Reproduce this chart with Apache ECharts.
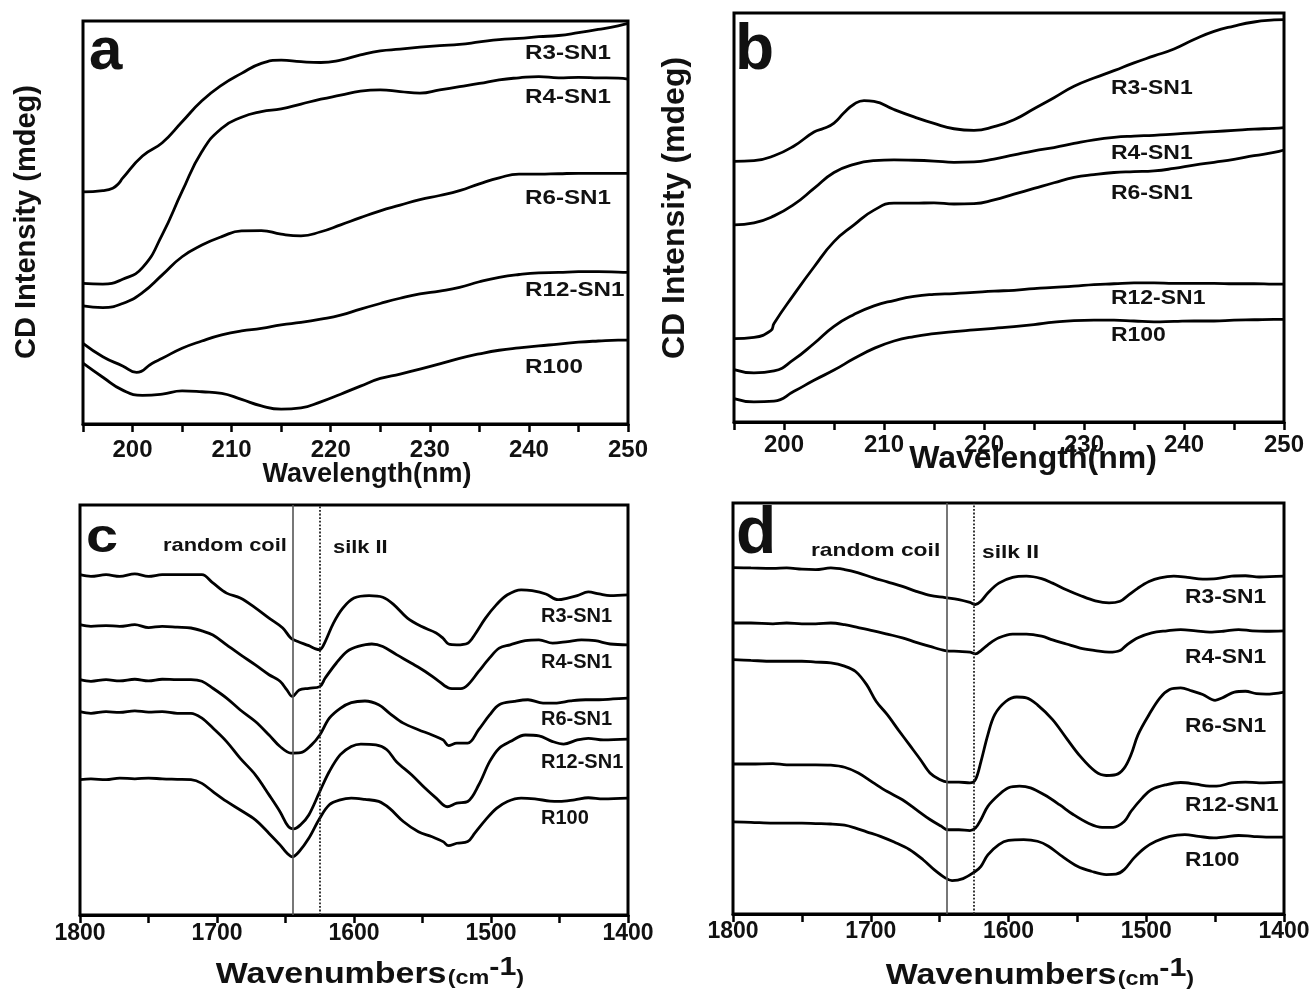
<!DOCTYPE html>
<html>
<head>
<meta charset="utf-8">
<script src="https://cdn.jsdelivr.net/npm/echarts@6/dist/echarts.min.js"></script>
<style>
html,body{margin:0;padding:0;background:#fff;}
#chart{width:1314px;height:994px;}
</style>
</head>
<body>
<div id="chart"></div>
<script>
// ---------------- DATA ----------------
const seriesNames = ['R3-SN1', 'R4-SN1', 'R6-SN1', 'R12-SN1', 'R100'];
const cdTickLabels = [200, 210, 220, 230, 240, 250];
const irTickLabels = [1800, 1700, 1600, 1500, 1400];
const bandLines = [1645, 1625]; // random coil, silk II

// Panel a: CD, wavelength (nm) vs intensity (arb.)
const aR3 = [[195,57.6],[197,57.9],[198,58.5],[198.6,59.7],[199,61.0],[201,66.5],[203,69.8],[205,75.0],[207,80.2],[209,84.1],[211,87.0],[213,89.5],[215,90.3],[217,89.9],[219,89.7],[221,90.3],[223,91.6],[225,92.6],[227,93.0],[229,93.5],[231,93.9],[233,94.2],[235,94.8],[237,95.4],[239,95.7],[241,96.1],[243,96.4],[245,97.1],[247,97.9],[249,98.8],[250,99.4]];
const aR4 = [[195,34.9],[197,34.7],[199,35.9],[201,38.8],[203,47.0],[205,57.7],[207,67.6],[209,73.4],[211,76.1],[213,77.5],[215,78.2],[217,79.4],[219,80.6],[221,81.6],[223,82.6],[225,82.9],[227,82.5],[229,82.1],[231,82.9],[233,83.7],[235,84.5],[237,85.4],[239,85.9],[241,86.2],[243,85.9],[245,86.0],[247,85.9],[249,85.8],[250,85.6]];
const aR6 = [[195,29.3],[197,28.9],[199,29.9],[201,32.6],[203,37.0],[205,41.5],[207,44.4],[209,46.5],[211,47.9],[213,48.0],[215,47.1],[217,46.7],[219,47.7],[221,49.4],[223,51.2],[225,52.9],[227,54.3],[229,55.7],[231,56.7],[233,57.9],[235,59.6],[237,61.1],[239,62.0],[241,62.0],[243,62.1],[245,62.2],[247,62.2],[249,62.2],[250,62.2]];
const aR12 = [[195,20.0],[197,16.7],[199,14.4],[200.4,12.8],[202,15.1],[203,16.3],[205,18.8],[207,20.6],[209,22.1],[211,23.1],[213,23.7],[215,24.6],[217,25.2],[219,26.0],[221,27.0],[223,28.5],[225,29.9],[227,31.2],[229,32.3],[231,33.0],[233,33.9],[235,35.3],[237,36.4],[239,37.1],[241,37.5],[243,37.6],[245,37.8],[247,37.8],[249,37.7],[250,37.6]];
const aR100 = [[195,15.1],[197,11.6],[199,8.4],[201,7.1],[203,7.4],[205,8.2],[207,8.0],[209,7.6],[211,6.1],[213,4.5],[215,3.7],[217,4.0],[219,5.5],[221,7.4],[223,9.4],[225,11.3],[227,12.4],[229,13.6],[231,14.9],[233,16.3],[235,17.4],[237,18.3],[239,18.9],[241,19.4],[243,19.8],[245,20.3],[247,20.6],[249,20.8],[250,20.8]];

// Panel b: CD
const bR3 = [[195,63.7],[197,63.9],[199,65.1],[201,67.5],[203,70.9],[204,71.8],[205,73.1],[206,75.6],[207,77.7],[208,78.6],[209,78.4],[211,76.4],[213,74.6],[215,73.0],[217,71.7],[219,71.3],[221,72.2],[223,73.9],[225,76.6],[227,79.3],[229,82.1],[231,84.1],[233,85.9],[235,87.8],[237,89.5],[239,91.2],[241,93.5],[243,95.5],[245,96.8],[247,97.8],[249,98.3],[250,98.4]];
const bR4 = [[195,48.2],[197,48.7],[199,50.4],[201,53.2],[203,57.1],[205,61.0],[207,63.0],[209,63.9],[211,64.1],[213,64.0],[215,63.8],[217,63.5],[219,63.6],[221,64.3],[223,65.3],[225,66.3],[227,67.1],[229,68.1],[231,69.0],[233,69.6],[235,69.9],[237,70.1],[239,70.4],[241,70.7],[243,71.0],[245,71.3],[247,71.6],[249,71.8],[250,72.0]];
const bR6 = [[195,20.4],[197,20.7],[198.7,22.4],[199,24.1],[201,31.2],[203,37.9],[205,44.1],[207,48.2],[209,51.8],[211,53.5],[213,53.5],[215,53.6],[217,53.3],[219,53.4],[221,54.3],[223,55.7],[225,57.1],[227,58.5],[229,59.8],[231,60.5],[233,61.0],[235,61.2],[237,61.4],[239,62.0],[241,62.8],[243,63.5],[245,64.2],[247,65.1],[249,65.9],[250,66.5]];
const bR12 = [[195,12.8],[197,12.0],[199,12.5],[201,15.3],[203,19.2],[205,23.4],[207,26.3],[209,28.4],[211,29.7],[213,30.7],[215,31.2],[217,31.4],[219,31.7],[221,32.0],[223,32.2],[225,32.6],[227,32.9],[229,33.2],[231,33.6],[233,33.8],[235,34.0],[237,34.0],[239,33.9],[241,33.9],[243,33.9],[245,33.8],[247,33.8],[249,33.7],[250,33.7]];
const bR100 = [[195,5.7],[197,4.9],[199,5.1],[201,7.5],[203,10.2],[205,12.7],[207,15.5],[209,18.0],[211,19.8],[213,20.9],[215,21.6],[217,22.1],[219,22.5],[221,22.9],[223,23.3],[225,23.8],[227,24.4],[229,24.8],[231,24.9],[233,24.9],[235,24.7],[237,24.5],[239,24.6],[241,24.7],[243,24.7],[245,24.9],[247,25.0],[249,25.1],[250,25.1]];

// Panel c: FTIR, wavenumber (cm-1) vs absorbance (arb.)
const cR3 = [[1800,83.0],[1792,82.6],[1781,83.0],[1771,82.6],[1760,83.2],[1750,82.6],[1740,83.0],[1729,83.0],[1719,83.0],[1711,83.0],[1703,81.0],[1693,78.5],[1683,77.3],[1672,74.9],[1662,72.4],[1652,70.0],[1646,67.5],[1641,66.7],[1633,65.7],[1628,64.9],[1625,64.7],[1621,66.7],[1615,71.2],[1608,74.9],[1600,77.3],[1589,77.9],[1579,77.5],[1571,75.7],[1561,72.4],[1551,70.4],[1540,68.8],[1535,67.5],[1531,66.1],[1525,65.9],[1517,66.3],[1512,68.3],[1504,72.4],[1496,75.7],[1488,78.1],[1478,79.3],[1470,79.1],[1460,78.3],[1451,76.9],[1444,77.3],[1437,77.9],[1429,78.8],[1421,78.3],[1413,77.9],[1400,78.1]];
const cR4 = [[1800,70.8],[1792,70.4],[1781,70.6],[1771,70.4],[1760,70.8],[1750,70.1],[1740,70.4],[1729,70.2],[1719,70.0],[1711,69.3],[1703,68.3],[1693,65.9],[1683,63.5],[1672,61.0],[1662,58.6],[1654,57.0],[1649,54.9],[1645,53.3],[1640,54.9],[1633,55.3],[1625,55.7],[1621,57.8],[1613,61.4],[1605,64.3],[1597,65.5],[1587,66.1],[1579,65.5],[1569,63.5],[1558,61.4],[1548,59.4],[1538,57.0],[1530,55.3],[1522,55.2],[1517,56.1],[1509,59.4],[1501,62.7],[1494,65.1],[1486,65.9],[1475,66.9],[1465,67.1],[1455,66.3],[1444,66.7],[1434,67.1],[1424,66.9],[1413,66.1],[1400,65.9]];
const cR6 = [[1800,57.4],[1792,57.0],[1781,57.4],[1771,57.1],[1760,57.5],[1750,57.1],[1740,57.5],[1729,57.4],[1719,57.4],[1711,57.0],[1703,55.3],[1693,52.9],[1683,50.0],[1672,47.2],[1662,43.9],[1654,41.1],[1646,39.5],[1639,39.6],[1631,41.5],[1625,43.9],[1618,48.0],[1610,50.4],[1602,51.8],[1592,52.2],[1582,51.3],[1574,49.2],[1564,46.8],[1553,45.2],[1543,43.9],[1535,42.7],[1531,41.3],[1525,41.9],[1517,41.9],[1509,45.2],[1501,48.8],[1494,51.3],[1483,52.1],[1473,52.5],[1462,51.7],[1452,51.7],[1442,52.2],[1431,52.5],[1421,52.5],[1411,52.7],[1400,52.9]];
const cR12 = [[1800,49.6],[1792,49.2],[1781,49.6],[1771,49.4],[1760,49.8],[1750,49.5],[1740,49.6],[1729,49.2],[1719,49.2],[1711,48.0],[1703,45.6],[1693,42.3],[1683,38.2],[1672,34.2],[1662,29.3],[1654,25.2],[1648,21.6],[1644,21.0],[1639,22.0],[1633,24.4],[1625,30.1],[1618,35.0],[1610,39.1],[1602,41.1],[1595,41.7],[1584,41.5],[1576,40.3],[1569,37.4],[1558,34.2],[1548,30.9],[1540,28.5],[1532,26.4],[1525,27.3],[1517,27.7],[1509,31.7],[1501,37.4],[1494,40.7],[1486,42.3],[1475,43.9],[1465,43.7],[1455,42.3],[1447,41.7],[1437,42.7],[1429,43.1],[1418,42.7],[1400,42.9]];
const cR100 = [[1800,33.0],[1792,33.2],[1781,33.0],[1771,33.4],[1760,33.2],[1750,33.4],[1740,33.2],[1729,33.1],[1719,33.0],[1711,32.1],[1703,30.1],[1693,27.7],[1683,25.6],[1672,23.2],[1662,19.9],[1654,17.1],[1649,15.1],[1645,14.2],[1640,15.5],[1633,18.7],[1625,23.6],[1618,26.9],[1610,28.1],[1602,28.5],[1592,28.2],[1582,27.7],[1574,26.0],[1564,22.8],[1553,20.3],[1543,19.1],[1535,17.9],[1531,16.9],[1525,17.5],[1517,17.9],[1512,19.9],[1504,23.2],[1496,26.0],[1488,27.7],[1478,28.5],[1468,28.3],[1457,27.8],[1450,27.7],[1439,28.1],[1429,28.6],[1418,28.3],[1400,28.5]];

// Panel d: FTIR
const dR3 = [[1800,84.3],[1787,84.2],[1771,84.1],[1761,84.2],[1750,83.9],[1740,83.8],[1729,84.2],[1719,83.8],[1709,83.0],[1698,81.8],[1688,80.8],[1677,79.7],[1667,78.5],[1657,77.5],[1646,77.0],[1636,76.5],[1628,75.8],[1624,75.3],[1620,76.1],[1615,78.1],[1607,80.5],[1597,81.9],[1587,82.2],[1576,81.6],[1568,80.5],[1558,78.9],[1548,77.5],[1537,76.2],[1527,75.7],[1519,76.1],[1514,77.3],[1506,79.3],[1498,80.9],[1490,81.8],[1480,82.2],[1470,81.9],[1459,81.5],[1449,81.6],[1438,82.2],[1428,82.3],[1418,82.0],[1400,82.2]];
const dR4 = [[1800,70.8],[1787,70.8],[1771,70.6],[1761,70.8],[1750,70.6],[1740,70.6],[1729,70.8],[1719,70.4],[1709,69.7],[1698,68.9],[1688,68.1],[1677,67.2],[1667,66.1],[1657,65.1],[1646,64.1],[1636,63.9],[1628,63.7],[1624,63.3],[1620,64.1],[1615,65.5],[1607,67.2],[1597,68.1],[1587,68.1],[1576,67.6],[1568,66.7],[1558,65.7],[1548,64.7],[1537,64.1],[1527,63.7],[1519,64.1],[1514,65.5],[1506,67.2],[1496,68.4],[1485,68.9],[1475,69.2],[1464,68.9],[1454,68.6],[1444,68.8],[1433,69.2],[1423,68.9],[1413,68.8],[1400,68.9]];
const dR6 = [[1800,61.9],[1787,61.7],[1771,61.5],[1761,61.5],[1750,61.5],[1740,61.3],[1729,61.1],[1719,60.3],[1711,59.0],[1703,55.8],[1696,51.7],[1688,48.5],[1680,44.8],[1672,41.2],[1664,37.6],[1657,34.3],[1650,32.7],[1644,32.1],[1636,32.1],[1628,31.9],[1624,32.7],[1620,37.1],[1615,43.6],[1610,48.5],[1602,51.7],[1594,52.8],[1587,52.6],[1579,50.9],[1568,47.3],[1558,42.8],[1548,38.4],[1537,34.7],[1529,33.7],[1522,33.9],[1516,35.5],[1511,38.8],[1506,43.6],[1498,48.5],[1490,52.6],[1483,54.6],[1475,55.0],[1467,54.3],[1459,53.4],[1450,52.0],[1444,52.7],[1436,54.0],[1428,54.2],[1420,53.6],[1413,53.5],[1400,54.0]];
const dR12 = [[1800,36.5],[1787,36.5],[1771,36.6],[1761,36.3],[1750,36.3],[1740,36.3],[1729,36.2],[1719,35.7],[1709,34.3],[1698,31.9],[1688,29.8],[1677,27.8],[1667,25.4],[1657,23.0],[1649,21.4],[1644,20.5],[1636,20.5],[1628,20.3],[1624,20.9],[1620,23.0],[1615,26.2],[1607,29.0],[1600,30.7],[1592,31.1],[1584,30.7],[1574,29.0],[1563,26.6],[1553,24.2],[1542,22.1],[1532,21.1],[1524,21.1],[1516,22.5],[1511,25.0],[1503,28.2],[1496,30.3],[1485,31.5],[1475,32.0],[1464,31.6],[1454,31.1],[1449,31.1],[1438,31.9],[1428,32.1],[1418,31.9],[1400,32.1]];
const dR100 = [[1800,22.4],[1787,22.3],[1771,22.1],[1761,22.1],[1750,22.1],[1740,22.0],[1729,21.9],[1719,21.6],[1711,20.9],[1703,20.0],[1693,18.9],[1683,17.5],[1672,15.7],[1662,13.2],[1654,10.8],[1646,8.8],[1641,8.1],[1633,8.6],[1624,10.4],[1620,11.6],[1615,14.4],[1607,16.9],[1600,17.9],[1589,18.1],[1579,17.7],[1571,16.5],[1561,14.0],[1550,11.6],[1540,10.4],[1529,9.6],[1522,9.7],[1516,10.8],[1509,13.6],[1501,16.1],[1493,17.7],[1483,18.9],[1472,19.3],[1462,18.9],[1451,18.5],[1444,18.7],[1433,19.1],[1423,18.9],[1413,18.7],[1400,18.7]];

const panelData = [
  [aR3, aR4, aR6, aR12, aR100],
  [bR3, bR4, bR6, bR12, bR100],
  [cR3, cR4, cR6, cR12, cR100],
  [dR3, dR4, dR6, dR12, dR100]
];

// ---------------- LAYOUT ----------------
const FONT = '"Liberation Sans", Arial, Helvetica, sans-serif';
const grids = [
  {left: 83, top: 21, width: 545, height: 403},
  {left: 734, top: 13, width: 550, height: 409},
  {left: 80, top: 505, width: 548, height: 410},
  {left: 733, top: 503, width: 551, height: 411}
];
const tickFont = [24, 24, 23, 23];
const tickMargin = [14, 11, 7, 6];

// series label positions (left x, centre y), font size, horizontal stretch
const labelLayout = [
  {x: 525, ys: [53, 97, 198, 290, 367], fs: 20.5, sx: 1.18},
  {x: 1111, ys: [88, 153, 193, 298, 335], fs: 20.5, sx: 1.12},
  {x: 541, ys: [616, 662, 719, 762, 818], fs: 20, sx: 1.0},
  {x: 1185, ys: [597, 657, 726, 805, 860], fs: 20, sx: 1.14}
];

const chart = echarts.init(document.getElementById('chart'), null, {renderer: 'canvas'});

function txt(text, x, y, fs, o) {
  o = o || {};
  return {
    type: 'text', x: x, y: y, z: 100, silent: true,
    rotation: o.rot || 0, scaleX: o.sx || 1, scaleY: o.sy || 1,
    style: {
      text: text, fontSize: fs, fontWeight: o.weight || 'bold', fontFamily: FONT,
      fill: '#111', align: o.align || 'left', verticalAlign: 'middle'
    }
  };
}

// "Wavenumbers(cm-1)" with superscript, built as a group around its centre
function waveTitle(cx, baseline) {
  const parts = [
    {t: 'Wavenumbers', fs: 29, dx: 0, rise: 0},
    {t: '(cm', fs: 20, dx: 198.2, rise: 0},
    {t: '-1', fs: 26, dx: 233.8, rise: 8},
    {t: ')', fs: 20, dx: 256.9, rise: 0}
  ];
  const total = 263.6;
  return {
    type: 'group', x: cx, y: baseline, scaleX: 1.17, z: 100, silent: true,
    children: parts.map(p => ({
      type: 'text', x: p.dx - total / 2, y: -p.rise - 0.3465 * p.fs, silent: true,
      style: {text: p.t, fontSize: p.fs, fontWeight: 'bold', fontFamily: FONT,
              fill: '#111', align: 'left', verticalAlign: 'middle'}
    }))
  };
}

const gridOpts = grids.map(g => Object.assign({show: true, borderColor: '#000', borderWidth: 3, backgroundColor: 'transparent'}, g));

const xAxes = grids.map((g, i) => {
  const isCD = i < 2;
  return {
    type: 'value', gridIndex: i,
    min: isCD ? 195 : 1400, max: isCD ? 250 : 1800,
    interval: isCD ? 5 : 50, inverse: !isCD,
    axisLine: {show: true, lineStyle: {color: '#000', width: 3}},
    axisTick: {show: true, inside: false, length: 8, lineStyle: {color: '#000', width: 2.5}},
    axisLabel: {
      show: true, margin: tickMargin[i], fontSize: tickFont[i], fontWeight: 'bold',
      fontFamily: FONT, color: '#111',
      formatter: v => (isCD ? cdTickLabels : irTickLabels).indexOf(v) >= 0 ? String(v) : ''
    },
    splitLine: {show: false}
  };
});

const yAxes = grids.map((g, i) => ({
  type: 'value', gridIndex: i, min: 0, max: 100, show: false
}));

const series = [];
panelData.forEach((arrs, p) => {
  arrs.forEach((d, k) => {
    const s = {
      type: 'line', name: seriesNames[k], xAxisIndex: p, yAxisIndex: p,
      data: d, showSymbol: false, symbol: 'none',
      smooth: p < 2 ? 0.5 : 0.35,
      lineStyle: {color: '#000', width: 2.8},
      silent: true
    };
    if (p >= 2 && k === 0) {
      s.markLine = {
        symbol: ['none', 'none'], silent: true, label: {show: false},
        data: [
          {xAxis: bandLines[0], lineStyle: {type: 'solid', color: '#555', width: 1.6}},
          {xAxis: bandLines[1], lineStyle: {type: 'dotted', color: '#222', width: 1.8}}
        ]
      };
    }
    series.push(s);
  });
});

const graphics = [];
// series labels
labelLayout.forEach(L => {
  seriesNames.forEach((n, k) => graphics.push(txt(n, L.x, L.ys[k], L.fs, {sx: L.sx})));
});
// panel letters
graphics.push(txt('a', 89, 52, 60, {}));
graphics.push(txt('b', 735, 51, 64, {}));
graphics.push(txt('c', 86, 539, 48, {sx: 1.2}));
graphics.push(txt('d', 736, 535, 66, {}));
// band annotations
graphics.push(txt('random coil', 163, 546, 19, {sx: 1.15}));
graphics.push(txt('silk II', 333, 548, 19, {sx: 1.15}));
graphics.push(txt('random coil', 811, 551, 19, {sx: 1.2}));
graphics.push(txt('silk II', 982, 553, 19, {sx: 1.2}));
// axis titles
graphics.push(txt('Wavelength(nm)', 367, 475, 27, {align: 'center'}));
graphics.push(txt('Wavelength(nm)', 1033, 459, 32, {align: 'center'}));
graphics.push(txt('CD Intensity (mdeg)', 27, 222, 29, {align: 'center', rot: Math.PI / 2}));
graphics.push(txt('CD Intensity (mdeg)', 675, 208, 32, {align: 'center', rot: Math.PI / 2}));
graphics.push(waveTitle(370, 985));
graphics.push(waveTitle(1040, 986));

chart.setOption({
  animation: false,
  backgroundColor: '#fff',
  grid: gridOpts,
  xAxis: xAxes,
  yAxis: yAxes,
  series: series,
  graphic: graphics
});
</script>
</body>
</html>
